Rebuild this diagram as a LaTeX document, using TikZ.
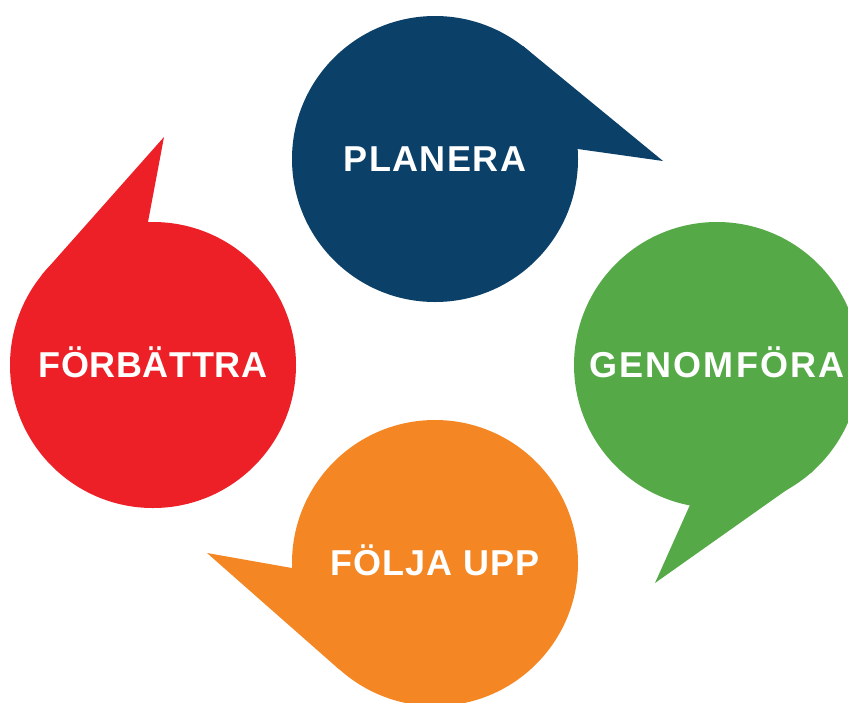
\documentclass[tikz,border=0pt]{standalone}
\usepackage{fontspec}
\setmainfont{Liberation Sans}
\usetikzlibrary{backgrounds}
\definecolor{cblue}{HTML}{0B4068}
\definecolor{cgreen}{HTML}{55AA47}
\definecolor{corange}{HTML}{F48623}
\definecolor{cred}{HTML}{ED1F27}
\tikzset{
  bubble/.style={circle, minimum size=286pt, inner sep=0pt, text=white,
    text height=25.8pt, text depth=0pt,
    font=\fontsize{36}{40}\selectfont\bfseries},
  ls/.style={font=\fontsize{36}{40}\selectfont\bfseries\addfontfeatures{LetterSpace=#1}},
}
\begin{document}
\begin{tikzpicture}[x=1pt,y=-1pt]
\useasboundingbox (0,0) rectangle (848,702);
\clip (0,0) rectangle (848,702);
\node[bubble, ls=4, fill=cblue]     (planera) at (435,159) {PLANERA};
\node[bubble, ls=6, fill=cgreen]    (genom)   at (717,365) {GENOMFÖRA};
\node[bubble, ls=2.5, fill=corange] (folja)   at (435,563) {FÖLJA UPP};
\node[bubble, ls=1.5, fill=cred]    (forb)    at (153,365) {FÖRBÄTTRA};
\coordinate (tP) at (663,161);
\coordinate (tG) at (655,583);
\coordinate (tF) at (207,553);
\coordinate (tR) at (164,137);
\begin{pgfonlayer}{background}
\fill[cblue]   (planera.52.8) -- (tP) -- (planera.4.8) -- (planera.center) -- cycle;
\fill[cgreen]  (genom.-48) -- (tG) -- (genom.-101) -- (genom.center) -- cycle;
\fill[corange] (folja.182) -- (tF) -- (folja.-132) -- (folja.center) -- cycle;
\fill[cred]    (forb.92.4) -- (tR) -- (forb.141) -- (forb.center) -- cycle;
\end{pgfonlayer}
\end{tikzpicture}
\end{document}
